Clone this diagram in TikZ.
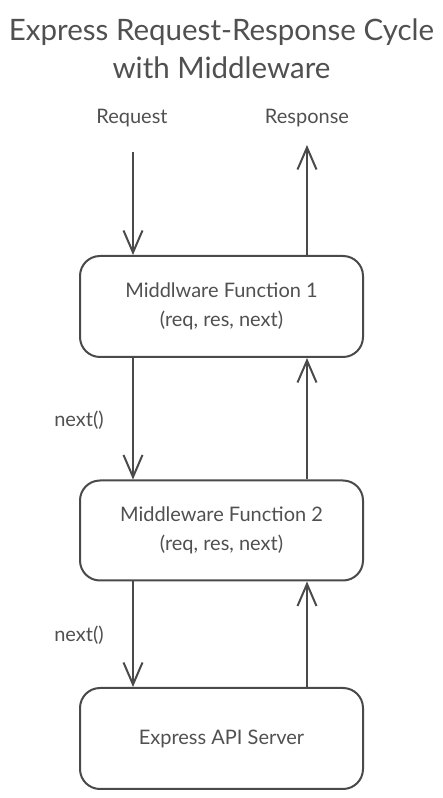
\documentclass[tikz,border=0pt]{standalone}
\usepackage{fontspec}
\setmainfont{Lato}
\usetikzlibrary{arrows.meta}
\definecolor{lnclr}{HTML}{4A4A4A}
\definecolor{txclr}{HTML}{505050}

\tikzset{
    mwbox/.style={draw=lnclr, line width=2pt, rounded corners=20pt, minimum width=283pt, align=center, text=txclr, font=\fontsize{20}{29}\selectfont},
    flow/.style={draw=lnclr, line width=2pt, -{Straight Barb[length=22pt, width=19pt, line width=2pt]}},
    lbl/.style={text=txclr, font=\fontsize{20}{24}\selectfont}
}

\begin{document}
\begin{tikzpicture}[x=1pt, y=1pt]
    \useasboundingbox (0,0) rectangle (443,798);
    \node[text=txclr, align=center, font=\fontsize{29.5}{38}\selectfont] (title) at (221.5,749) {Express Request-Response Cycle\\with Middleware};
    \node[lbl] (req) at (132,680) {Request};
    \node[lbl] (res) at (307,680) {Response};
    \node[mwbox, minimum height=101pt] (mw1) at (221.5,491.5) {Middlware Function 1\\(req, res, next)};
    \node[mwbox, minimum height=100pt] (mw2) at (221.5,267.5) {Middleware Function 2\\(req, res, next)};
    \node[mwbox, minimum height=101pt] (srv) at (221.5,59.5) {Express API Server};
    \node[lbl] (nx1) at (79,378) {next()};
    \node[lbl] (nx2) at (79,163) {next()};
    \coordinate (reqin) at (133,646);
    \coordinate (resout) at (307,653);
    \draw[flow] (reqin) -- (reqin |- mw1.north);
    \draw[flow] (resout |- mw1.north) -- (resout);
    \draw[flow] (mw1.south -| reqin) -- (mw2.north -| reqin);
    \draw[flow] (mw2.north -| resout) -- (mw1.south -| resout);
    \draw[flow] (mw2.south -| reqin) -- (srv.north -| reqin);
    \draw[flow] (srv.north -| resout) -- (mw2.south -| resout);
\end{tikzpicture}
\end{document}
